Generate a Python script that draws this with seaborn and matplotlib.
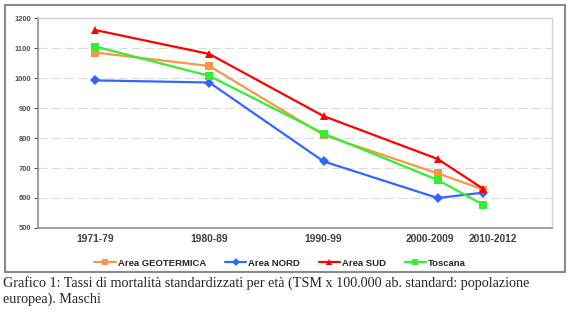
import matplotlib
matplotlib.use("Agg")
import matplotlib.pyplot as plt
from matplotlib.patches import Rectangle
from matplotlib.lines import Line2D
from matplotlib.transforms import ScaledTranslation
import seaborn as sns
import pandas as pd

periods = ["1971-79", "1980-89", "1990-99", "2000-2009", "2010-2012"]
period_x = [1975, 1985, 1995, 2005, 2009]
series_names = ["Area GEOTERMICA", "Area NORD", "Area SUD", "Toscana"]
geotermica = [1085, 1040, 810, 682, 628]
nord = [992, 985, 722, 600, 618]
sud = [1160, 1080, 873, 730, 630]
toscana = [1105, 1007, 815, 660, 577]

values = [geotermica, nord, sud, toscana]
rows = []
for name, vals in zip(series_names, values):
    for x, v in zip(period_x, vals):
        rows.append({"x": x, "val": v, "serie": name})
df = pd.DataFrame(rows)

sns.set_style("white")
plt.rcParams['font.family'] = ['Liberation Sans', 'DejaVu Sans']

palette = {"Area GEOTERMICA": "#F79646", "Area NORD": "#3366FF",
           "Area SUD": "#FF0000", "Toscana": "#33EE33"}
markers = {"Area GEOTERMICA": "s", "Area NORD": "D", "Area SUD": "^", "Toscana": "s"}

fig = plt.figure(figsize=(5.75, 3.23), dpi=100)
ax = fig.add_axes([38/575, 1-228/323, (552-38)/575, (228-18)/323])

sns.lineplot(data=df, x="x", y="val", hue="serie", style="serie",
             palette=palette, markers=markers, dashes=False, lw=1.6,
             markersize=5.5, markeredgewidth=0, ax=ax, legend=False)

ax.set_xlim(1970, 2015)
ax.set_ylim(500, 1200)
ax.set_yticks(range(500, 1201, 100))
ax.set_xticks(period_x)
ax.set_xticklabels(periods)
ax.set_xlabel("")
ax.set_ylabel("")
for y in range(600, 1200, 100):
    ax.axhline(y, color="#dadada", lw=0.8, ls=(0, (8, 4)), zorder=0)
for s in ["top", "right"]:
    ax.spines[s].set_color("#d0d0d0")
    ax.spines[s].set_linewidth(1.0)
for s in ["left", "bottom"]:
    ax.spines[s].set_color("#909090")
    ax.spines[s].set_linewidth(1.2)
ax.tick_params(axis="y", labelsize=5.4, colors="#505050", length=3, width=0.8,
               direction="out", pad=2, left=True)
ax.tick_params(axis="x", labelsize=7.4, colors="#404040", length=0, pad=4)
for lab in ax.get_yticklabels() + ax.get_xticklabels():
    lab.set_fontweight("bold")
# Excel-like nudging of crowded last labels
xlabs = ax.get_xticklabels()
xlabs[3].set_transform(xlabs[3].get_transform() + ScaledTranslation(-8/100, 0, fig.dpi_scale_trans))
xlabs[4].set_transform(xlabs[4].get_transform() + ScaledTranslation(9/100, 0, fig.dpi_scale_trans))

handles = [Line2D([0], [0], color=palette[n], marker=markers[n], lw=1.6,
                  markersize=4.5, markeredgewidth=0) for n in series_names]
leg = fig.legend(handles, series_names, loc="center", ncol=4,
                 bbox_to_anchor=(280/575, 1-263/323), frameon=False,
                 prop={"size": 6.8, "weight": "bold", "family": "Liberation Sans"},
                 handlelength=2.3, columnspacing=2.0, handletextpad=0.15)

fig.patches.append(Rectangle((5/575, 1-272/323), 560/575, 267/323,
                             transform=fig.transFigure, fill=False,
                             edgecolor="#8a8a8a", lw=1.5))

fig.text(3/575, 1-283/323,
         "Grafico 1: Tassi di mortalità standardizzati per età (TSM x 100.000 ab. standard: popolazione",
         family="Liberation Serif", fontsize=10.2, va="center", ha="left")
fig.text(3/575, 1-299/323, "europea). Maschi",
         family="Liberation Serif", fontsize=10.2, va="center", ha="left")

fig.savefig("out.png", dpi=100)
